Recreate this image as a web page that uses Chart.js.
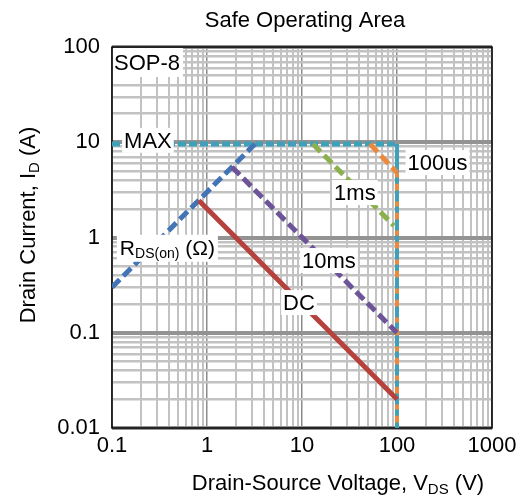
<!DOCTYPE html>
<html>
<head>
<meta charset="utf-8">
<script src="https://cdn.jsdelivr.net/npm/chart.js@4.4.1/dist/chart.umd.min.js"></script>
<style>
  html, body { margin: 0; padding: 0; background: #fff; }
  #wrap { width: 526px; height: 500px; position: relative; }
</style>
</head>
<body>
<div id="wrap"><canvas id="soa"></canvas></div>
<script>
// Axis decades and their labels
const voltageTicks = [0.1, 1, 10, 100, 1000];
const voltageTickLabels = ['0.1', '1', '10', '100', '1000'];
const currentTicks = [0.01, 0.1, 1, 10, 100];
const currentTickLabels = ['0.01', '0.1', '1', '10', '100'];

// Boundary curves: drain-source voltage (V) and drain current (A)
const rdsOnV = [0.1, 3.2];
const rdsOnI = [0.3, 9.6];
const maxCurrentV = [0.1, 100];
const maxCurrentI = [9.6, 9.6];
const maxVoltageV = [100, 100];
const maxVoltageI = [9.6, 0.01];
const pulse100usV = [52, 100, 100];
const pulse100usI = [9.6, 4.8, 0.01];
const pulse1msV = [13, 93];
const pulse1msI = [9.6, 1.33];
const pulse10msV = [1.83, 100];
const pulse10msI = [5.5, 0.1];
const dcV = [0.82, 100];
const dcI = [2.45, 0.02];

const FONT = '"Liberation Sans", Arial, Helvetica, sans-serif';
const font = size => size + 'px ' + FONT;
const TEXT = 22;

const zip = (xs, ys) => xs.map((x, i) => ({ x, y: ys[i] }));
const sameValue = (a, b) => Math.abs(a - b) / b < 1e-6;
const isDecade = v => Math.abs(Math.log10(v) - Math.round(Math.log10(v))) < 1e-6;

// 1..9 gridlines for every decade of a log axis
function logGrid(lo, hi) {
  const out = [];
  for (let e = Math.round(Math.log10(lo)); e < Math.round(Math.log10(hi)); e++) {
    for (let m = 1; m < 10; m++) out.push(+(m * Math.pow(10, e)).toPrecision(6));
  }
  out.push(hi);
  return out;
}

function labelFor(values, labels) {
  return v => {
    const i = values.findIndex(t => sameValue(v, t));
    return i >= 0 ? labels[i] : '';
  };
}

// Text made of runs of different sizes (for subscripts)
function drawRuns(ctx, runs, x, y, align) {
  let total = 0;
  runs.forEach(r => { ctx.font = font(r.size); r.w = ctx.measureText(r.text).width; total += r.w; });
  let cx = align === 'center' ? x - total / 2 : (align === 'right' ? x - total : x);
  ctx.textAlign = 'left';
  ctx.textBaseline = 'alphabetic';
  runs.forEach(r => { ctx.font = font(r.size); ctx.fillText(r.text, cx, y + (r.shift || 0)); cx += r.w; });
  return total;
}

// Curve captions, anchored in data space (V, A) at their centres
const captions = [
  { text: 'MAX', v: 0.239, i: 10.6 },
  { text: '100us', v: 267, i: 6.2 },
  { text: '1ms', v: 36, i: 3.0 },
  { text: '10ms', v: 19.2, i: 0.58 },
  { text: 'DC', v: 9.3, i: 0.21 }
];

const decorations = {
  id: 'decorations',
  beforeDatasetsDraw(chart) {
    const { ctx, chartArea: a } = chart;
    ctx.save();
    ctx.strokeStyle = '#000';
    ctx.lineWidth = 1.5;
    ctx.strokeRect(a.left, a.top, a.right - a.left, a.bottom - a.top);
    ctx.restore();
  },
  afterDatasetsDraw(chart) {
    const { ctx, chartArea: a, scales } = chart;
    ctx.save();
    ctx.fillStyle = '#000';

    // package name in the corner
    ctx.font = font(TEXT);
    const sw = ctx.measureText('SOP-8').width;
    ctx.fillStyle = '#fff';
    ctx.fillRect(a.left + 1, a.top + 1, sw + 4, 29);
    ctx.fillStyle = '#000';
    ctx.textAlign = 'left';
    ctx.textBaseline = 'alphabetic';
    ctx.fillText('SOP-8', a.left + 2, a.top + 23);

    // curve captions on white boxes
    captions.forEach(c => {
      const x = scales.x.getPixelForValue(c.v);
      const y = scales.y.getPixelForValue(c.i);
      ctx.font = font(TEXT);
      const w = ctx.measureText(c.text).width;
      ctx.fillStyle = '#fff';
      ctx.fillRect(x - w / 2 - 2, y - 12, w + 4, 25);
      ctx.fillStyle = '#000';
      ctx.textAlign = 'center';
      ctx.textBaseline = 'alphabetic';
      ctx.fillText(c.text, x, y + 8);
    });

    // on-resistance caption
    const rx = scales.x.getPixelForValue(0.121);
    const ry = scales.y.getPixelForValue(0.78);
    const runs = [
      { text: 'R', size: 21 },
      { text: 'DS(on)', size: 14, shift: 3 },
      { text: ' (\u03A9)', size: 21 }
    ];
    let tw = 0;
    runs.forEach(r => { ctx.font = font(r.size); tw += ctx.measureText(r.text).width; });
    ctx.fillStyle = '#fff';
    ctx.fillRect(rx - 3, ry - 13, tw + 6, 27);
    ctx.fillStyle = '#000';
    drawRuns(ctx, runs, rx, ry + 7.5, 'left');
    ctx.restore();
  },
  afterDraw(chart) {
    const { ctx } = chart;
    ctx.save();
    ctx.fillStyle = '#000';
    ctx.font = font(TEXT);
    ctx.textAlign = 'center';
    ctx.textBaseline = 'alphabetic';
    ctx.fillText('Safe Operating Area', 305, 27);

    drawRuns(ctx, [
      { text: 'Drain-Source Voltage, V', size: 22 },
      { text: 'DS', size: 15, shift: 4 },
      { text: ' (V)', size: 22 }
    ], 338, 490, 'center');

    ctx.translate(35, 225);
    ctx.rotate(-Math.PI / 2);
    drawRuns(ctx, [
      { text: 'Drain Current, I', size: 22 },
      { text: 'D', size: 15, shift: 4 },
      { text: ' (A)', size: 22 }
    ], 0, 0, 'center');
    ctx.restore();
  }
};

const dash = [11, 5];

new Chart(document.getElementById('soa'), {
  type: 'scatter',
  data: {
    datasets: [
      { label: 'DC', data: zip(dcV, dcI), borderColor: '#B5423D', borderWidth: 5, order: 1 },
      { label: '10ms', data: zip(pulse10msV, pulse10msI), borderColor: '#6D5499', borderWidth: 5, borderDash: dash, order: 2 },
      { label: 'RDS(on)', data: zip(rdsOnV, rdsOnI), borderColor: '#4374B6', borderWidth: 5, borderDash: dash, order: 3 },
      { label: '1ms', data: zip(pulse1msV, pulse1msI), borderColor: '#8DB04F', borderWidth: 5, borderDash: dash, order: 4 },
      {
        label: '100us', data: zip(pulse100usV, pulse100usI), borderColor: '#EB8A3C', borderWidth: 5, order: 5,
        segment: {
          borderDash: c => sameValue(c.p0.parsed.x, c.p1.parsed.x) ? [5, 24] : dash,
          borderWidth: c => sameValue(c.p0.parsed.x, c.p1.parsed.x) ? 4 : 5
        }
      },
      { label: 'VDS max', data: zip(maxVoltageV, maxVoltageI), borderColor: '#3FA0BA', borderWidth: 4, order: 8 },
      { label: 'MAX', data: zip(maxCurrentV, maxCurrentI), borderColor: '#3FA0BA', borderWidth: 5, borderDash: [8, 3], order: 9 }
    ].map(d => Object.assign({ showLine: true, pointRadius: 0, pointHoverRadius: 0, fill: false, tension: 0, borderCapStyle: 'butt' }, d))
  },
  options: {
    responsive: true,
    maintainAspectRatio: false,
    animation: false,
    events: [],
    layout: { padding: { top: 47, right: 34, left: 0, bottom: 0 } },
    plugins: { legend: { display: false }, tooltip: { enabled: false }, title: { display: false } },
    scales: {
      x: {
        type: 'logarithmic',
        position: 'bottom',
        min: 0.1,
        max: 1000,
        afterBuildTicks: s => { s.ticks = logGrid(0.1, 1000).map(value => ({ value })); },
        afterFit: s => { s.height = 72; },
        ticks: {
          autoSkip: false, maxRotation: 0, minRotation: 0, padding: 5,
          color: '#000', font: { family: FONT, size: TEXT },
          callback: labelFor(voltageTicks, voltageTickLabels)
        },
        grid: {
          drawTicks: false,
          color: c => (c.tick && isDecade(c.tick.value)) ? '#8c8c8c' : '#c2c2c2',
          lineWidth: c => (c.tick && isDecade(c.tick.value)) ? 1.5 : 2
        },
        border: { display: false }
      },
      y: {
        type: 'logarithmic',
        position: 'left',
        min: 0.01,
        max: 100,
        afterBuildTicks: s => { s.ticks = logGrid(0.01, 100).map(value => ({ value })); },
        afterFit: s => { s.width = 112; },
        ticks: {
          autoSkip: false, padding: 12,
          color: '#000', font: { family: FONT, size: TEXT },
          callback: labelFor(currentTicks, currentTickLabels)
        },
        grid: {
          drawTicks: false,
          color: c => (c.tick && isDecade(c.tick.value)) ? '#939393' : '#c2c2c2',
          lineWidth: c => (c.tick && isDecade(c.tick.value)) ? 4 : 2.5
        },
        border: { display: false }
      }
    }
  },
  plugins: [decorations]
});
</script>
</body>
</html>
